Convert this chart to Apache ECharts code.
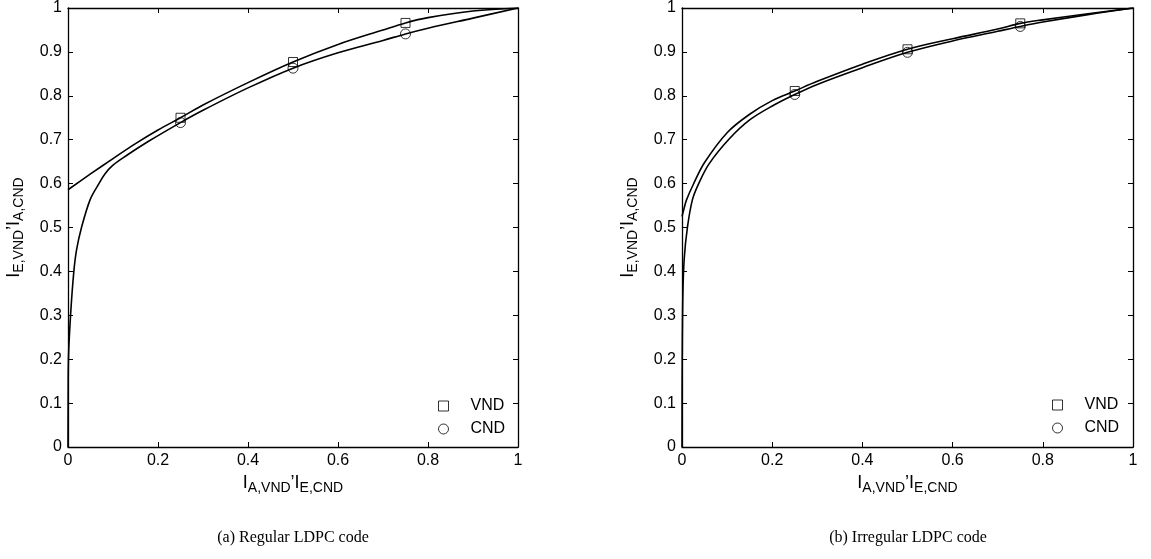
<!DOCTYPE html>
<html>
<head>
<meta charset="utf-8">
<script src="https://cdn.jsdelivr.net/npm/echarts@6/dist/echarts.min.js"></script>
<style>
  html, body { margin: 0; padding: 0; background: #fff; }
  #chart { width: 1151px; height: 559px; }
</style>
</head>
<body>
<div id="chart"></div>
<script>
// EXIT curves: VND plotted as I_E,VND vs I_A,VND; CND plotted inverted (I_A,CND vs I_E,CND)
const regularVnd = [
  [0, 0.586], [0.05, 0.622], [0.1, 0.657], [0.15, 0.691], [0.2, 0.722], [0.25, 0.750],
  [0.3, 0.779], [0.4, 0.830], [0.5, 0.877], [0.6, 0.917], [0.7, 0.950], [0.75, 0.966],
  [0.8, 0.978], [0.9, 0.993], [1, 1]
];
const regularCnd = [
  [0, 0], [0.0003, 0.1], [0.001, 0.2], [0.006, 0.305], [0.013, 0.4], [0.019, 0.449],
  [0.03, 0.5], [0.049, 0.563], [0.067, 0.597], [0.082, 0.622], [0.1, 0.642], [0.13, 0.664],
  [0.18, 0.697], [0.25, 0.739], [0.3, 0.767], [0.4, 0.818], [0.5, 0.863], [0.6, 0.898],
  [0.7, 0.926], [0.75, 0.941], [0.8, 0.954], [0.9, 0.977], [1, 1]
];
const irregularVnd = [
  [0, 0.525], [0.005, 0.545], [0.01, 0.563], [0.025, 0.598], [0.05, 0.648], [0.1, 0.716],
  [0.15, 0.758], [0.2, 0.789], [0.25, 0.811], [0.3, 0.833], [0.4, 0.872], [0.5, 0.906],
  [0.6, 0.930], [0.7, 0.952], [0.75, 0.965], [0.8, 0.973], [0.9, 0.987], [1, 1]
];
const irregularCnd = [
  [0, 0], [0.0005, 0.2], [0.002, 0.35], [0.005, 0.43], [0.012, 0.5], [0.023, 0.563],
  [0.037, 0.6], [0.06, 0.645], [0.104, 0.701], [0.15, 0.745], [0.204, 0.779], [0.25, 0.803],
  [0.3, 0.826], [0.4, 0.864], [0.5, 0.899], [0.6, 0.925], [0.7, 0.947], [0.75, 0.958],
  [0.8, 0.968], [0.9, 0.985], [1, 1]
];

// Marker positions along each curve
const markerX = [0.25, 0.5, 0.75];
const regularVndMarks = [0.750, 0.877, 0.966];
const regularCndMarks = [0.739, 0.863, 0.941];
const irregularVndMarks = [0.811, 0.906, 0.965];
const irregularCndMarks = [0.803, 0.899, 0.958];

const legendNames = ['VND', 'CND'];
const captions = ['(a) Regular LDPC code', '(b) Irregular LDPC code'];
const xNameParts = ['I', 'A,VND', '\u2019', 'I', 'E,CND'];
const yNameParts = ['I', 'E,VND', '\u2019', 'I', 'A,CND'];

const FONT = '"Liberation Sans", Arial, Helvetica, sans-serif';
const SERIF = '"Liberation Serif", "Times New Roman", serif';

const nameRich = {
  m: { fontSize: 18, lineHeight: 18, verticalAlign: 'top', fontFamily: FONT, color: '#000' },
  s: { fontSize: 14, lineHeight: 29, fontFamily: FONT, color: '#000' }
};
function richName(parts) {
  return '{m|' + parts[0] + '}{s|' + parts[1] + '}{m|' + parts[2] + '}{m|' + parts[3] + '}{s|' + parts[4] + '}';
}

const grids = [
  { left: 68, top: 8, width: 450, height: 439 },
  { left: 682, top: 8, width: 451, height: 439 }
];

function mainX(gi) {
  return {
    type: 'value', gridIndex: gi, min: 0, max: 1, interval: 0.2, position: 'bottom',
    name: richName(xNameParts), nameLocation: 'middle', nameGap: 27,
    nameTextStyle: { rich: nameRich },
    axisLine: { show: true, onZero: false, lineStyle: { color: '#000', width: 1.3 } },
    axisTick: { show: true, inside: true, length: 5, lineStyle: { color: '#000', width: 1 } },
    axisLabel: { color: '#000', fontSize: 16, fontFamily: FONT, margin: 6 },
    splitLine: { show: false }
  };
}
function mirrorX(gi) {
  return {
    type: 'value', gridIndex: gi, min: 0, max: 1, interval: 0.2, position: 'top',
    axisLine: { show: true, onZero: false, lineStyle: { color: '#000', width: 1.3 } },
    axisTick: { show: true, inside: true, length: 5, lineStyle: { color: '#000', width: 1 } },
    axisLabel: { show: false }, splitLine: { show: false }
  };
}
function mainY(gi) {
  return {
    type: 'value', gridIndex: gi, min: 0, max: 1, interval: 0.1, position: 'left',
    name: richName(yNameParts), nameLocation: 'middle', nameGap: 34,
    nameTextStyle: { rich: nameRich },
    axisLine: { show: true, onZero: false, lineStyle: { color: '#000', width: 1.3 } },
    axisTick: { show: true, inside: true, length: 5, lineStyle: { color: '#000', width: 1 } },
    axisLabel: { color: '#000', fontSize: 16, fontFamily: FONT, margin: 6 },
    splitLine: { show: false }
  };
}
function mirrorY(gi) {
  return {
    type: 'value', gridIndex: gi, min: 0, max: 1, interval: 0.1, position: 'right',
    axisLine: { show: true, onZero: false, lineStyle: { color: '#000', width: 1.3 } },
    axisTick: { show: true, inside: true, length: 5, lineStyle: { color: '#000', width: 1 } },
    axisLabel: { show: false }, splitLine: { show: false }
  };
}

function curve(data, xi, yi) {
  return {
    type: 'line', data: data, xAxisIndex: xi, yAxisIndex: yi,
    showSymbol: false, smooth: 0.35, silent: true,
    lineStyle: { color: '#000', width: 1.6 }, z: 3
  };
}
function marks(name, ys, symbol, size, xi, yi) {
  return {
    type: 'scatter', name: name, xAxisIndex: xi, yAxisIndex: yi,
    data: markerX.map((x, i) => [x, ys[i]]),
    symbol: symbol, symbolSize: size, silent: true,
    itemStyle: { color: 'rgba(0,0,0,0)', borderColor: '#000', borderWidth: 1 }, z: 4
  };
}
function legendAt(left, top) {
  return {
    orient: 'vertical', left: left, top: top, itemWidth: 10, itemHeight: 10, itemGap: 7,
    selectedMode: false,
    textStyle: { fontSize: 16, fontFamily: FONT, color: '#000', lineHeight: 16, padding: [0, 0, 0, 17] },
    data: [
      { name: legendNames[0], icon: 'rect', itemStyle: { color: 'rgba(0,0,0,0)', borderColor: '#000', borderWidth: 1 } },
      { name: legendNames[1], icon: 'circle', itemStyle: { color: 'rgba(0,0,0,0)', borderColor: '#000', borderWidth: 1 } }
    ]
  };
}

const option = {
  animation: false,
  backgroundColor: '#fff',
  grid: grids,
  title: [
    { text: captions[0], left: 293, top: 530, textAlign: 'center', padding: 0,
      textStyle: { fontFamily: SERIF, fontSize: 16, fontWeight: 'normal', color: '#000' } },
    { text: captions[1], left: 908, top: 530, textAlign: 'center', padding: 0,
      textStyle: { fontFamily: SERIF, fontSize: 16, fontWeight: 'normal', color: '#000' } }
  ],
  legend: [legendAt(433, 393), legendAt(1047, 392)],
  xAxis: [mainX(0), mirrorX(0), mainX(1), mirrorX(1)],
  yAxis: [mainY(0), mirrorY(0), mainY(1), mirrorY(1)],
  series: [
    curve(regularVnd, 0, 0),
    curve(regularCnd, 0, 0),
    marks(legendNames[0], regularVndMarks, 'rect', 9, 0, 0),
    marks(legendNames[1], regularCndMarks, 'circle', 10, 0, 0),
    curve(irregularVnd, 2, 2),
    curve(irregularCnd, 2, 2),
    marks(legendNames[0], irregularVndMarks, 'rect', 9, 2, 2),
    marks(legendNames[1], irregularCndMarks, 'circle', 10, 2, 2)
  ]
};

const chart = echarts.init(document.getElementById('chart'), null, { renderer: 'canvas' });
chart.setOption(option);
</script>
</body>
</html>
